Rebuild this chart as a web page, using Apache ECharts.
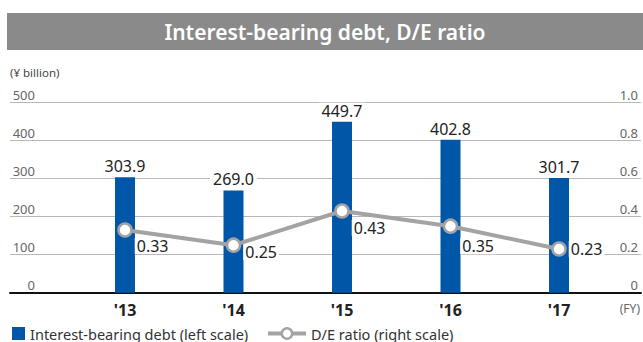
<!DOCTYPE html>
<html>
<head>
<meta charset="utf-8">
<script src="https://cdn.jsdelivr.net/npm/echarts@6/dist/echarts.min.js"></script>
<style>
  html, body { margin: 0; padding: 0; background: #fff; }
  #chart { width: 643px; height: 342px; }
</style>
</head>
<body>
<div id="chart"></div>
<script>
// Fiscal years and values
const years = ["'13", "'14", "'15", "'16", "'17"];
const debtValues = [303.9, 269.0, 449.7, 402.8, 301.7];     // ¥ billion, left scale
const deRatioValues = [0.33, 0.25, 0.43, 0.35, 0.23];       // right scale
const leftTicks = { min: 0, max: 500, interval: 100 };
const rightTicks = { min: 0, max: 1, interval: 0.2 };

// Label nudges for the ratio points (style only)
const ratioLabelOffsets = [[0, 16], [0, 7], [0, 17], [0, 20], [0, 0]];

const FONT = '"Noto Sans", "Open Sans", sans-serif';
const BAR_COLOR = '#0057a8';
const LINE_COLOR = '#a3a3a3';

const chart = echarts.init(document.getElementById('chart'), null, { renderer: 'svg' });

const plotTop = 102.7;
const plotBottom = 342 - 292.7;

chart.setOption({
  animation: false,
  textStyle: { fontFamily: FONT },
  graphic: [
    { type: 'rect', shape: { x: 7, y: 13, width: 636, height: 37 }, style: { fill: '#8a8a8a' }, silent: true },
    { type: 'text', x: 325, y: 32, style: { text: 'Interest-bearing debt, D/E ratio', fill: '#fff', font: '600 21px ' + FONT, textAlign: 'center', textVerticalAlign: 'middle' }, silent: true }
  ],
  grid: [
    { left: 10, right: 0, top: plotTop, bottom: plotBottom },
    { left: 70.75, right: 29.75, top: plotTop, bottom: plotBottom }
  ],
  legend: [
    {
      data: ['Interest-bearing debt (left scale)'],
      left: 12, top: 326, padding: 0, itemWidth: 13, itemHeight: 13, itemGap: 0,
      icon: 'rect',
      textStyle: { fontSize: 14.5, color: '#333', fontFamily: FONT }
    },
    {
      data: ['D/E ratio (right scale)'],
      left: 266, top: 326, padding: 0, itemWidth: 38, itemHeight: 13,
      lineStyle: { width: 4, color: LINE_COLOR },
      itemStyle: { color: '#fff', borderColor: LINE_COLOR, borderWidth: 2.5 },
      textStyle: { fontSize: 14.5, color: '#333', fontFamily: FONT }
    }
  ],
  xAxis: [
    {
      gridIndex: 0, type: 'value', min: 0, max: 1,
      axisLine: { show: true, lineStyle: { color: '#111', width: 2 } },
      axisTick: { show: false }, axisLabel: { show: false }, splitLine: { show: false },
      name: '(FY)', nameLocation: 'end', nameGap: -1,
      nameTextStyle: { align: 'right', verticalAlign: 'top', padding: [10, 0, 0, 0], fontSize: 12, color: '#666', fontFamily: FONT }
    },
    {
      gridIndex: 1, type: 'category', data: years,
      axisLine: { show: false }, axisTick: { show: false },
      axisLabel: { margin: 9, fontSize: 16, fontWeight: 'bold', color: '#222', fontFamily: FONT }
    }
  ],
  yAxis: [
    {
      gridIndex: 0, type: 'value', position: 'left', ...leftTicks,
      axisLine: { show: false }, axisTick: { show: false },
      splitLine: { show: true, lineStyle: { color: '#b8b8b8', width: 1 } },
      axisLabel: { inside: true, margin: 25, align: 'right', verticalAlign: 'bottom', padding: [0, 0, 1, 0], fontSize: 13, color: '#666', fontFamily: FONT },
      name: '(¥ billion)', nameLocation: 'end', nameGap: 24,
      nameTextStyle: { align: 'left', fontSize: 11.5, color: '#444', fontFamily: FONT }
    },
    {
      gridIndex: 0, type: 'value', position: 'right', ...rightTicks,
      axisLine: { show: false }, axisTick: { show: false }, splitLine: { show: false },
      axisLabel: {
        inside: true, margin: 3, align: 'right', verticalAlign: 'bottom', padding: [0, 0, 1, 0],
        fontSize: 13, color: '#666', fontFamily: FONT,
        formatter: v => (v === 0 ? '0' : v.toFixed(1))
      }
    },
    { gridIndex: 1, type: 'value', ...leftTicks, show: false },
    { gridIndex: 1, type: 'value', ...rightTicks, show: false }
  ],
  series: [
    {
      name: 'Interest-bearing debt (left scale)',
      type: 'bar', xAxisIndex: 1, yAxisIndex: 2,
      data: debtValues, barWidth: 20,
      itemStyle: { color: BAR_COLOR },
      label: {
        show: true, position: 'top', distance: 3,
        formatter: p => p.value.toFixed(1),
        fontSize: 16, color: '#222', fontFamily: FONT,
        backgroundColor: '#fff', padding: [0, 3]
      },
      z: 2
    },
    {
      name: 'D/E ratio (right scale)',
      type: 'line', xAxisIndex: 1, yAxisIndex: 3,
      data: deRatioValues.map((v, i) => ({ value: v, label: { offset: ratioLabelOffsets[i] } })),
      symbol: 'circle', symbolSize: 13,
      lineStyle: { color: LINE_COLOR, width: 4 },
      itemStyle: { color: '#fff', borderColor: LINE_COLOR, borderWidth: 2.5 },
      label: {
        show: true, position: 'right', distance: 2,
        formatter: p => p.value.toFixed(2),
        fontSize: 16, color: '#222', fontFamily: FONT,
        backgroundColor: '#fff', padding: [0, 2]
      },
      z: 5
    }
  ]
});
</script>
</body>
</html>
